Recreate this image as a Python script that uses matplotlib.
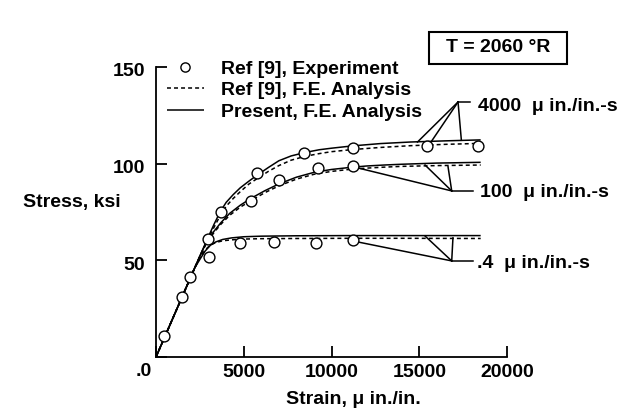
import matplotlib
matplotlib.use("Agg")
import matplotlib.pyplot as plt
from matplotlib.patches import Rectangle
import matplotlib.transforms as mtransforms

plt.rcParams['font.family'] = ['Liberation Sans', 'DejaVu Sans']
plt.rcParams['font.weight'] = 'bold'
FS = 14

# ---------------- data ----------------
# experiment points (Ref [9])
exp_elastic_strain = [475, 1460, 1940]
exp_elastic_stress = [11.0, 30.9, 41.2]
exp_4000_strain = [3690, 5770, 8450, 11210, 15440, 18350]
exp_4000_stress = [75.2, 95.3, 105.4, 108.0, 109.2, 109.2]
exp_100_strain = [2980, 5410, 7030, 9250, 11210]
exp_100_stress = [60.9, 80.9, 91.6, 97.6, 98.8]
exp_04_strain = [3040, 4790, 6740, 9120, 11210]
exp_04_stress = [51.6, 58.8, 59.6, 59.1, 60.5]

# analysis curves
c4000_strain = [0, 2000, 2500, 2900, 3300, 3650, 4000, 4400, 4800, 5300, 5800,
                6400, 7000, 7700, 8500, 9300, 10000, 11200, 12800, 14500, 16500, 18500]
c4000_present = [0, 41.8, 52.2, 60.5, 68.5, 75.0, 80.0, 84.0, 87.5, 91.0, 94.3,
                 98.0, 101.5, 104.0, 105.8, 107.2, 108.0, 109.2, 110.4, 111.2, 111.8, 112.3]
c4000_ref = [0, 41.8, 52.0, 59.8, 67.0, 73.0, 78.0, 82.0, 85.5, 89.5, 92.5,
             96.0, 99.0, 101.8, 103.8, 105.2, 106.2, 107.3, 108.4, 109.3, 110.0, 110.5]

c100_strain = [0, 2000, 2500, 2900, 3300, 3700, 4200, 4800, 5400, 6200, 7000,
               8000, 9000, 10000, 11000, 12000, 13000, 14000, 16000, 18500]
c100_present = [0, 41.8, 52.2, 60.0, 65.0, 69.5, 74.3, 78.5, 82.0, 86.0, 89.5,
                93.0, 95.5, 97.0, 98.0, 98.8, 99.3, 99.7, 100.3, 100.7]
c100_ref = [0, 41.8, 52.0, 59.3, 64.3, 68.7, 73.3, 77.5, 80.8, 85.0, 88.5,
            92.0, 94.5, 96.0, 97.0, 97.7, 98.2, 98.6, 99.0, 99.3]

c04_strain = [0, 2000, 2200, 2500, 2800, 3100, 3400, 3800, 4300, 5000, 6000,
              8000, 11000, 14000, 18500]
c04_present = [0, 41.8, 46.0, 50.5, 54.8, 57.8, 59.5, 60.8, 61.6, 62.2, 62.5,
               62.7, 62.8, 62.8, 62.8]
c04_ref = [0, 41.8, 46.2, 51.2, 55.4, 57.9, 59.2, 60.1, 60.6, 61.0, 61.2,
           61.3, 61.4, 61.4, 61.3]

# rate labels and leader lines
rate_labels = ['4000  \u03bc in./in.-s', '100  \u03bc in./in.-s', '.4  \u03bc in./in.-s']
label_x = [18350, 18460, 18290]
label_y = [129.8, 85.1, 48.6]
vertex_x = [17210, 16850, 16850]
vertex_y = [131.9, 85.9, 49.7]
tail_x = [17900, 18060, 18060]
target_x = [[14900, 15700, 17400], [11500, 15330, 16640], [11500, 15330, 16920]]
target_y = [[111.2, 111.6, 112.1], [97.8, 99.3, 98.4], [59.5, 62.6, 61.6]]

legend_labels = ['Ref [9], Experiment', 'Ref [9], F.E. Analysis', 'Present, F.E. Analysis']
xticks = [0, 5000, 10000, 15000, 20000]
xtick_labels = ['', '5000', '10000', '15000', '20000']
yticks = [0, 50, 100, 150]
ytick_labels = ['', '50', '100', '150']

# ---------------- figure ----------------
fig = plt.figure(figsize=(6.24, 4.2), dpi=100)
ax = fig.add_axes([156 / 624, 63 / 420, 351 / 624, 290 / 420])
ax.set_xlim(0, 20000)
ax.set_ylim(0, 150)

LW = 1.1
dash = (0, (2.6, 2.0))

solid_lines = []
dashed_lines = []
for xs, ys in [(c4000_strain, c4000_present), (c100_strain, c100_present), (c04_strain, c04_present)]:
    l, = ax.plot(xs, ys, color='black', lw=LW, solid_capstyle='butt', zorder=2)
    solid_lines.append(l)
for xs, ys in [(c4000_strain, c4000_ref), (c100_strain, c100_ref), (c04_strain, c04_ref)]:
    l, = ax.plot(xs, ys, color='black', lw=LW, linestyle=dash, zorder=2)
    dashed_lines.append(l)

mk = dict(marker='o', ms=7.8, mfc='white', mec='black', mew=1.0, linestyle='none', zorder=4, clip_on=False)
pts = None
for xs, ys in [(exp_elastic_strain, exp_elastic_stress), (exp_4000_strain, exp_4000_stress),
               (exp_100_strain, exp_100_stress), (exp_04_strain, exp_04_stress)]:
    p, = ax.plot(xs, ys, **mk)
    pts = pts or p

# leader lines and rate labels
for i in range(3):
    for tx, ty in zip(target_x[i], target_y[i]):
        ax.plot([vertex_x[i], tx], [vertex_y[i], ty], color='black', lw=LW, zorder=3, clip_on=False)
    ax.plot([vertex_x[i], tail_x[i]], [vertex_y[i], vertex_y[i]], color='black', lw=LW, zorder=3, clip_on=False)
    ax.text(label_x[i], label_y[i], rate_labels[i], fontsize=FS, fontweight='bold',
            ha='left', va='center', clip_on=False)

# axes styling
for s in ['top', 'right']:
    ax.spines[s].set_visible(False)
for s in ['left', 'bottom']:
    ax.spines[s].set_linewidth(1.3)
ax.set_xticks(xticks)
ax.set_xticklabels(xtick_labels)
ax.set_yticks(yticks)
ax.set_yticklabels(ytick_labels)
ax.tick_params(direction='in', length=8, width=1.3, labelsize=FS, pad=5)
ax.tick_params(axis='y', pad=8)
for lab in ax.get_xticklabels() + ax.get_yticklabels():
    lab.set_fontweight('bold')
off = mtransforms.ScaledTranslation(0, -3 / 100, fig.dpi_scale_trans)
for lab in ax.get_yticklabels():
    lab.set_transform(lab.get_transform() + off)

fig.text(152 / 624, 1 - 372 / 420, '.0', fontsize=FS, fontweight='bold', ha='right', va='center')
fig.text(353 / 624, 1 - 400 / 420, 'Strain, \u03bc in./in.', fontsize=FS, fontweight='bold',
         ha='center', va='center')
fig.text(72 / 624, 1 - 202 / 420, 'Stress, ksi', fontsize=FS, fontweight='bold',
         ha='center', va='center')

# temperature box
fig.patches.append(Rectangle((429 / 624, 1 - 64 / 420), 138 / 624, 32 / 420,
                             transform=fig.transFigure, fill=False, lw=1.5, edgecolor='black'))
fig.text(498 / 624, 1 - 48 / 420, 'T = 2060 \u00b0R', fontsize=FS, fontweight='bold',
         ha='center', va='center')

# legend
leg = ax.legend([pts, dashed_lines[0], solid_lines[0]], legend_labels,
                loc='upper left', bbox_to_anchor=(167 / 624, 1 - 60 / 420),
                bbox_transform=fig.transFigure, frameon=False, fontsize=FS,
                handlelength=1.9, handletextpad=0.9, labelspacing=0.2,
                borderpad=0, borderaxespad=0, markerscale=0.85)
for t in leg.get_texts():
    t.set_fontweight('bold')

fig.savefig('out.png', dpi=100)
